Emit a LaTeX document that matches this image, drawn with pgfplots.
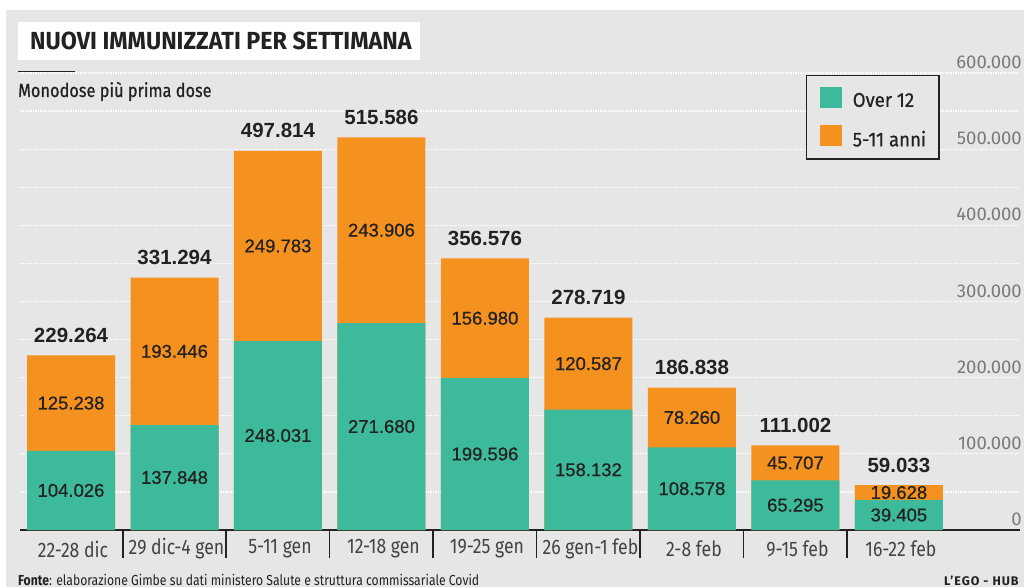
\documentclass[border=0pt]{standalone}
\usepackage{fontspec}
\setmainfont{Fira Sans}
\newfontfamily\condfont{Fira Sans}[FakeStretch=0.84]
\newfontfamily\medcondfont{Fira Sans}[FakeStretch=0.86, FakeBold=0.6]
\newfontfamily\legfont{Fira Sans}[FakeStretch=0.93, FakeBold=0.6]
\newfontfamily\titlefont{Fira Sans}[FakeStretch=0.945]
\newfontfamily\numfont{Liberation Sans}[FakeBold=0.7]
\newfontfamily\totfont{Liberation Sans}
\newfontfamily\hubfont{Fira Sans}[LetterSpace=8]
\usepackage{pgfplots}
\usepackage{pgfplotstable}
\pgfplotsset{compat=1.18}
\definecolor{bggray}{HTML}{E6E6E6}
\definecolor{tealc}{HTML}{3DBA9B}
\definecolor{orangec}{HTML}{F5921F}
\definecolor{txt}{HTML}{222222}
\definecolor{tickc}{HTML}{7A7A7A}

\pgfplotstableread{
x a b t
0 104.026 125.238 229.264
1 137.848 193.446 331.294
2 248.031 249.783 497.814
3 271.680 243.906 515.586
4 199.596 156.980 356.576
5 158.132 120.587 278.719
6 108.578 78.260 186.838
7 65.295 45.707 111.002
8 39.405 19.628 59.033
}\data

\begin{document}
\begin{tikzpicture}
\path[use as bounding box] (0,0) rectangle (1024pt,587pt);
\fill[white] (0,0) rectangle (1024pt,587pt);
\fill[bggray] (6pt,0) rectangle (1024pt,577pt);
\fill[white] (18pt,527pt) rectangle (420pt,565pt);
\node[anchor=base west, inner sep=0pt, text=txt] at (30pt,537pt) {\titlefont\bfseries\fontsize{24.7}{28}\selectfont NUOVI IMMUNIZZATI PER SETTIMANA};
\begin{axis}[
  at={(20pt,57pt)}, anchor=south west,
  scale only axis, width=1000pt, height=457pt,
  xmin=-0.493, xmax=9.17, ymin=0, ymax=600,
  ybar, bar width=88pt, bar shift=0pt,
  axis x line*=bottom, axis y line*=right,
  x axis line style={line width=1.5pt, draw=txt, -},
  y axis line style={draw=none},
  xtick={0,...,8},
  xticklabels={22-28 dic,29 dic-4 gen,5-11 gen,12-18 gen,19-25 gen,26 gen-1 feb,2-8 feb,9-15 feb,16-22 feb},
  xtick style={draw=none},
  major tick length=0pt,
  xticklabel style={font=\condfont\fontsize{21}{24}\selectfont, text=txt!85, anchor=center, yshift=-19pt, xshift=2pt},
  extra x ticks={0.5,1.5,2.5,3.5,4.5,5.5,6.5,7.5},
  extra x tick labels={},
  extra x tick style={xtick style={draw=txt, line width=1.5pt}, major tick length=28pt, xtick align=outside},
  ytick={0,100,200,300,400,500,600},
  yticklabels={0,100.000,200.000,300.000,400.000,500.000,600.000},
  ytick style={draw=none},
  yticklabel style={anchor=south east, inner sep=0pt, xshift=2pt, yshift=4pt, font=\fontsize{18.5}{20}\selectfont, text=tickc},
  minor y tick num=1,
  ymajorgrids, yminorgrids,
  major grid style={white, line width=1.2pt, dash pattern=on 1.5pt off 1pt},
  minor grid style={white, line width=1.2pt, dash pattern=on 1.5pt off 1pt},
  legend style={at={(0.786,0.996)}, anchor=north west, draw=txt, line width=1.5pt, fill=bggray,
    inner xsep=13pt, inner ysep=11pt, row sep=17pt, font=\legfont\fontsize{20}{22}\selectfont, text=txt,
    nodes={inner sep=0pt}},
  legend cell align=left,
  legend image code/.code={\path[#1, draw=none] (0pt,-7pt) rectangle (22pt,14pt); \path (33pt,0pt);},
]
\addplot[fill=orangec, draw=none, forget plot] table[x=x, y=t] {\data};
\addplot[fill=tealc, draw=none, forget plot] table[x=x, y=a] {\data};
\addplot[forget plot, draw=none, fill=none, nodes near coords, point meta=explicit symbolic,
  every node near coord/.append style={anchor=center, inner sep=0pt, font=\numfont\fontsize{18.5}{20}\selectfont, text=txt}]
  table[x=x, y expr=\thisrow{a}/2, meta=a] {\data};
\addplot[forget plot, draw=none, fill=none, nodes near coords, point meta=explicit symbolic,
  every node near coord/.append style={anchor=center, inner sep=0pt, font=\numfont\fontsize{18.5}{20}\selectfont, text=txt}]
  table[x=x, y expr=\thisrow{a}+\thisrow{b}/2, meta=b] {\data};
\addplot[forget plot, draw=none, fill=none, nodes near coords, point meta=explicit symbolic,
  every node near coord/.append style={anchor=base, inner sep=0pt, yshift=13pt, font=\totfont\bfseries\fontsize{20.5}{22}\selectfont, text=txt}]
  table[x=x, y=t, meta=t] {\data};
\addlegendimage{fill=tealc, draw=none}
\addlegendentry{Over 12}
\addlegendimage{fill=orangec, draw=none}
\addlegendentry{5-11 anni}
\end{axis}
\draw[line width=1pt, txt] (18pt,515pt) -- (75pt,515pt);
\node[anchor=base west, inner sep=0pt, text=txt] at (18pt,490pt) {\medcondfont\fontsize{19}{22}\selectfont Monodose più prima dose};
\node[anchor=base west, inner sep=0pt, text=txt] at (18pt,2pt) {\condfont\fontsize{14.5}{16}\selectfont \textbf{Fonte}: elaborazione Gimbe su dati ministero Salute e struttura commissariale Covid};
\node[anchor=base west, inner sep=0pt, text=txt] at (944pt,2pt) {\hubfont\bfseries\fontsize{12.5}{14}\selectfont L’EGO - HUB};
\end{tikzpicture}
\end{document}
